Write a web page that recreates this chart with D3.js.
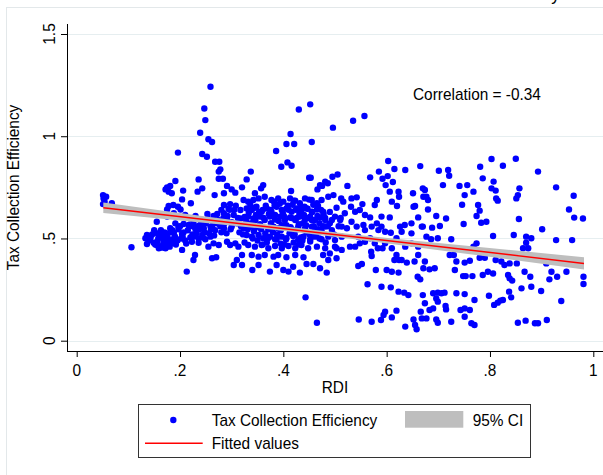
<!DOCTYPE html>
<html><head><meta charset="utf-8">
<script src="https://cdn.jsdelivr.net/npm/d3@7"></script>
<style>body{margin:0;background:#fff}svg{display:block;font-family:"Liberation Sans",Arial,sans-serif}</style>
</head><body><svg id="c" width="603" height="475"></svg>
<script>
// Scatter data: RDI (x) and Tax Collection Efficiency (y)
const rdi = [
0.259,0.247,0.249,0.239,0.255,0.262,0.196,0.243,0.252,0.268,0.276,0.278,0.275,0.236,0.275,0.283,0.191,0.175,0.181,0.172,
0.178,0.184,0.206,0.234,0.243,0.291,0.300,0.307,0.320,0.267,0.285,0.204,0.221,0.178,0.187,0.196,0.201,0.285,0.297,0.294,
0.323,0.317,0.175,0.265,0.155,0.191,0.197,0.181,0.207,0.217,0.226,0.236,0.246,0.259,0.271,0.285,0.300,0.310,0.323,0.175,
0.188,0.204,0.152,0.136,0.133,0.141,0.159,0.168,0.178,0.188,0.149,0.136,0.155,0.165,0.175,0.184,0.191,0.159,0.172,0.106,
0.204,0.226,0.223,0.236,0.243,0.249,0.259,0.265,0.275,0.255,0.229,0.226,0.262,0.270,0.213,0.291,0.297,0.307,0.313,0.304,
0.310,0.320,0.320,0.291,0.304,0.285,0.317,0.265,0.239,0.220,0.210,0.188,0.197,0.175,0.051,0.052,0.054,0.051,0.057,0.068,
// middle block
0.430,0.452,0.496,0.535,0.557,0.414,0.406,0.421,0.455,0.386,0.408,0.416,0.396,0.337,0.329,0.450,0.453,0.495,0.505,0.481,
0.471,0.466,0.475,0.486,0.524,0.415,0.361,0.357,0.345,0.603,0.615,0.636,0.665,0.568,0.585,0.592,0.602,0.612,0.598,0.606,
0.623,0.624,0.651,0.670,0.671,0.655,0.581,0.577,0.610,0.620,0.590,0.606,0.568,0.532,0.542,0.553,0.548,0.539,0.516,0.512,
0.497,0.487,0.500,0.510,0.513,0.532,0.523,0.542,0.555,0.558,0.571,0.584,0.597,0.626,0.635,0.648,0.661,0.668,0.652,0.608,
0.548,0.539,0.529,0.577,0.583,0.592,0.570,0.571,0.619,0.624,0.615,0.629,0.639,0.661,0.654,0.660,0.665,0.671,0.552,0.545,
0.579,0.600,0.610,0.623,0.590,0.608,0.623,0.634,0.642,0.563,0.443,0.465,0.546,0.571,0.589,0.594,0.597,0.610,0.619,0.636,
0.652,0.655,0.658,0.666,0.668,
// dense core
0.332,0.342,0.352,0.364,0.377,0.390,0.400,0.413,0.423,0.432,0.442,0.455,0.465,0.474,
0.329,0.339,0.348,0.358,0.368,0.377,0.387,0.397,0.406,0.416,0.426,0.435,0.445,0.455,0.465,0.477,
0.332,0.342,0.355,0.364,0.374,0.384,0.394,0.403,0.413,0.423,0.432,0.442,0.452,0.461,0.471,0.481,0.490,
0.335,0.345,0.358,0.371,0.381,0.390,0.403,0.416,0.429,0.442,0.455,0.468,0.481,0.494,
0.329,0.339,0.352,0.361,0.374,0.384,0.397,0.406,0.419,0.429,0.439,0.452,0.461,0.474,0.487,0.500,0.513,
0.332,0.345,0.358,0.371,0.384,0.397,0.410,0.423,0.435,0.448,0.465,0.481,0.500,
0.339,0.352,0.364,0.381,0.390,0.406,0.423,0.439,0.477,0.490,0.503,0.513,
0.352,0.340,0.374,0.387,0.400,0.410,0.419,0.432,0.445,0.458,0.471,0.484,0.487,0.503,
0.519,0.531,0.558,0.581,0.590,0.545,0.568,0.558,0.597,0.629,0.648,0.619,0.648,0.661,0.610,0.636,
// right block
0.803,0.850,0.781,0.825,0.893,0.701,0.719,0.721,0.786,0.807,0.709,0.741,0.756,0.803,0.811,0.857,0.854,0.851,0.928,0.962,
0.674,0.677,0.680,0.751,0.768,0.812,0.815,0.746,0.777,0.780,0.774,0.783,0.793,0.856,0.953,0.963,0.980,0.680,0.696,0.715,
0.703,0.688,0.749,0.670,0.677,0.686,0.699,0.725,0.806,0.846,0.870,0.870,0.880,0.874,0.864,0.901,0.928,0.959,0.774,0.768,
0.722,0.730,0.735,0.751,0.761,0.780,0.790,0.811,0.822,0.828,0.838,0.852,0.909,0.674,0.683,0.693,0.732,0.748,0.753,0.766,
0.786,0.796,0.806,0.835,0.838,0.843,0.867,0.878,0.919,0.915,0.930,0.948,0.981,0.981,0.861,0.880,0.899,0.837,0.841,0.825,
0.798,0.770,0.735,0.751,0.690,0.699,0.706,0.712,0.696,0.699,0.670,0.674,0.683,0.690,0.714,0.715,0.743,0.751,0.761,0.751,
0.808,0.815,0.820,0.938,0.677,0.696,0.699,0.725,0.764,0.770,0.854,0.869,0.887,0.893,0.910,
// extra core
0.305,0.312,0.318,0.322,0.328,0.333,0.338,0.343,0.347,0.350,0.355,0.360,0.365,0.368,0.372,0.376,0.380,0.383,0.387,0.391,
0.395,0.399,0.402,0.406,0.409,0.412,0.416,0.420,0.424,0.427,0.431,0.434,0.438,0.441,0.445,0.448,0.452,0.456,0.459,0.463,
0.467,0.470,0.474,0.478,0.482,0.486,0.490,0.494,0.498,0.503,0.507,0.511,
0.140,0.146,0.152,0.158,0.163,0.168,0.172,0.177,0.182,0.186,0.192,0.197,0.202,0.207,0.212,0.218,0.224,0.230,0.236,0.242,
0.248,0.254,0.260,0.266,0.272,0.278,0.284,0.290,0.296,0.300,
// extra core 2
0.308,0.315,0.325,0.331,0.336,0.341,0.346,0.353,0.357,0.362,0.366,0.370,0.375,0.379,0.384,0.388,0.393,0.397,0.401,0.405,
0.410,0.414,0.418,0.422,0.426,0.430,0.433,0.437,0.440,0.444,0.447,0.451,0.455,0.458,0.462,0.466,0.470,0.473,0.477,0.481,
0.360,0.395,0.430,0.325,0.345,0.382,0.420,0.450,
0.143,0.150,0.156,0.161,0.166,0.170,0.176,0.180,0.185,0.190,0.195,0.200,0.205,0.210,0.215,0.220,0.226,0.232,0.238,0.244,
0.250,0.256,0.262,0.268,0.274,0.280,0.286,0.292,0.298,0.253,0.280,0.230
];
const tce = [
1.242,1.136,1.079,1.017,0.985,0.972,0.920,0.913,0.900,0.875,0.875,0.838,0.827,0.789,0.792,0.792,0.781,0.750,0.757,0.740,
0.729,0.721,0.734,0.729,0.745,0.757,0.740,0.724,0.750,0.712,0.721,0.691,0.672,0.659,0.664,0.655,0.642,0.664,0.668,0.647,
0.688,0.639,0.642,0.610,0.582,0.574,0.558,0.550,0.571,0.566,0.558,0.561,0.550,0.558,0.574,0.550,0.558,0.574,0.550,0.525,
0.528,0.522,0.528,0.517,0.501,0.509,0.509,0.501,0.492,0.496,0.479,0.473,0.468,0.463,0.468,0.476,0.484,0.452,0.452,0.457,
0.444,0.509,0.484,0.479,0.517,0.496,0.509,0.476,0.468,0.460,0.419,0.395,0.403,0.408,0.338,0.484,0.468,0.476,0.460,0.370,
0.395,0.419,0.370,0.590,0.615,0.623,0.598,0.590,0.590,0.598,0.615,0.623,0.607,0.607,0.712,0.696,0.680,0.668,0.704,0.672,
// middle block
1.131,1.156,1.042,1.076,1.099,1.011,0.962,0.962,0.972,0.928,0.872,0.856,0.851,0.827,0.789,0.797,0.797,0.802,0.813,0.778,
0.761,0.740,0.757,0.770,0.757,0.732,0.761,0.745,0.721,0.879,0.840,0.835,0.854,0.799,0.827,0.792,0.805,0.776,0.761,0.729,
0.729,0.704,0.721,0.745,0.704,0.659,0.688,0.664,0.680,0.659,0.607,0.603,0.603,0.696,0.701,0.668,0.639,0.631,0.680,0.696,
0.712,0.704,0.607,0.590,0.558,0.582,0.550,0.558,0.566,0.541,0.558,0.541,0.533,0.558,0.566,0.574,0.603,0.558,0.655,0.528,
0.476,0.460,0.460,0.476,0.452,0.452,0.435,0.414,0.419,0.395,0.395,0.395,0.382,0.419,0.387,0.313,0.300,0.354,0.375,0.365,
0.346,0.346,0.337,0.333,0.264,0.261,0.240,0.235,0.223,0.276,0.212,0.088,0.104,0.093,0.101,0.126,0.142,0.114,0.147,0.069,
0.104,0.077,0.056,0.142,0.109,
// dense core
0.680,0.688,0.696,0.704,0.688,0.696,0.680,0.696,0.685,0.672,0.696,0.688,0.672,0.688,
0.647,0.639,0.655,0.631,0.647,0.631,0.655,0.639,0.647,0.631,0.647,0.636,0.647,0.631,0.642,0.631,
0.607,0.598,0.607,0.590,0.607,0.593,0.607,0.590,0.603,0.590,0.607,0.593,0.607,0.590,0.603,0.590,0.574,
0.558,0.550,0.558,0.545,0.558,0.550,0.558,0.545,0.558,0.550,0.558,0.545,0.558,0.541,
0.517,0.509,0.517,0.501,0.509,0.496,0.509,0.501,0.512,0.496,0.509,0.496,0.509,0.496,0.509,0.492,0.509,
0.468,0.460,0.468,0.452,0.463,0.452,0.463,0.452,0.468,0.452,0.460,0.452,0.460,
0.419,0.411,0.419,0.411,0.419,0.408,0.419,0.408,0.419,0.427,0.403,0.444,
0.370,0.346,0.338,0.370,0.346,0.338,0.362,0.333,0.375,0.375,0.354,0.333,0.395,0.452,
0.623,0.655,0.615,0.574,0.558,0.509,0.501,0.484,0.476,0.533,0.525,0.501,0.476,0.460,0.452,0.460,
// right block
0.889,0.890,0.851,0.856,0.827,0.831,0.835,0.807,0.794,0.778,0.761,0.757,0.761,0.745,0.734,0.745,0.712,0.696,0.750,0.709,
0.737,0.704,0.688,0.712,0.729,0.696,0.685,0.665,0.664,0.636,0.610,0.577,0.582,0.595,0.642,0.602,0.598,0.642,0.610,0.598,
0.561,0.553,0.571,0.558,0.509,0.496,0.501,0.496,0.512,0.517,0.509,0.479,0.501,0.452,0.452,0.545,0.492,0.492,0.476,0.460,
0.419,0.419,0.387,0.382,0.391,0.406,0.406,0.395,0.387,0.370,0.378,0.378,0.378,0.387,0.349,0.354,0.346,0.316,0.316,0.316,
0.321,0.337,0.329,0.321,0.305,0.294,0.337,0.313,0.337,0.300,0.313,0.337,0.313,0.277,0.256,0.264,0.243,0.240,0.212,0.199,
0.220,0.199,0.232,0.228,0.232,0.235,0.232,0.235,0.207,0.191,0.223,0.183,0.150,0.158,0.170,0.153,0.150,0.158,0.150,0.117,
0.175,0.186,0.196,0.194,0.109,0.104,0.088,0.093,0.085,0.077,0.088,0.098,0.085,0.085,0.101,
// extra core
0.640,0.600,0.560,0.520,0.585,0.625,0.575,0.535,0.615,0.490,0.570,0.640,0.525,0.480,0.620,0.575,0.530,0.660,0.495,0.585,
0.540,0.625,0.470,0.565,0.660,0.525,0.600,0.480,0.640,0.545,0.620,0.505,0.575,0.655,0.530,0.600,0.485,0.630,0.560,0.520,
0.660,0.575,0.535,0.620,0.480,0.560,0.630,0.590,0.520,0.650,0.560,0.600,
0.490,0.520,0.470,0.500,0.540,0.480,0.515,0.465,0.530,0.495,0.470,0.545,0.500,0.530,0.475,0.560,0.520,0.545,0.500,0.570,
0.530,0.595,0.545,0.515,0.620,0.560,0.600,0.525,0.640,0.580,
// extra core 2
0.660,0.530,0.605,0.545,0.665,0.500,0.590,0.630,0.545,0.600,0.660,0.500,0.640,0.555,0.615,0.520,0.670,0.565,0.610,0.495,
0.640,0.555,0.665,0.520,0.600,0.570,0.650,0.490,0.615,0.565,0.645,0.520,0.590,0.665,0.545,0.610,0.500,0.640,0.560,0.600,
0.470,0.475,0.470,0.480,0.650,0.680,0.685,0.690,
0.505,0.540,0.485,0.520,0.455,0.530,0.505,0.460,0.540,0.510,0.490,0.560,0.510,0.490,0.540,0.505,0.575,0.525,0.545,0.505,
0.575,0.525,0.560,0.540,0.590,0.530,0.575,0.610,0.545,0.620,0.640,0.610
];
// Fitted line end points and 95% CI band
const fitX = [0.0515, 0.982];
const fitY = [0.650, 0.378];
const ciX  = [0.0515, 0.15, 0.25, 0.35, 0.45, 0.55, 0.65, 0.75, 0.85, 0.982];
const ciLo = [0.624, 0.600, 0.576, 0.551, 0.523, 0.492, 0.460, 0.427, 0.393, 0.348];
const ciHi = [0.676, 0.642, 0.608, 0.575, 0.545, 0.516, 0.490, 0.465, 0.441, 0.408];
const xTicks = [0, 0.2, 0.4, 0.6, 0.8, 1];
const xTickLabels = ["0", ".2", ".4", ".6", ".8", "1"];
const yTicks = [0, 0.5, 1, 1.5];
const yTickLabels = ["0", ".5", "1", "1.5"];
const legendLabels = ["Tax Collection Efficiency", "95% CI", "Fitted values"];

const FS = 15.4, SY = 1.1;
const svg = d3.select("#c");
const x = d3.scaleLinear().domain([0, 1]).range([76.7, 593.3]);
const y = d3.scaleLinear().domain([0, 1.5]).range([340.7, 34]);
const axL = 67, axB = 351, axT = 24, axR = 603;

function txt(g, tx, ty, s, anchor, rot, fs) {
  return g.append("text")
    .attr("transform", `translate(${tx},${ty})` + (rot ? " rotate(-90)" : "") + ` scale(1,${SY})`)
    .attr("text-anchor", anchor || "start").attr("font-size", fs || FS).attr("fill", "#000").text(s);
}

// outer frame (graph region border)
svg.append("rect").attr("x", 6.5).attr("y", 7.5).attr("width", 620).attr("height", 500)
  .attr("fill", "none").attr("stroke", "#e3e8ea").attr("stroke-width", 1);

// cut-off title at the very top
txt(svg, 560, 0, "Tax Collection Efficiency", "end", false, FS + 2);

// grid lines
svg.append("g").selectAll("line").data(yTicks).join("line")
  .attr("x1", axL).attr("x2", axR).attr("y1", d => Math.round(y(d)) + 0.5).attr("y2", d => Math.round(y(d)) + 0.5)
  .attr("stroke", "#e6eef0").attr("stroke-width", 1);

// scatter
svg.append("g").selectAll("circle").data(rdi.map((d, i) => [d, tce[i]])).join("circle")
  .attr("cx", d => x(d[0])).attr("cy", d => y(d[1])).attr("r", 3.2).attr("fill", "#0000ff");

// CI band
const area = d3.area().x(d => x(d[0])).y0(d => y(d[1])).y1(d => y(d[2]));
svg.append("path").datum(ciX.map((d, i) => [d, ciLo[i], ciHi[i]])).attr("d", area).attr("fill", "#bebebe");

// fitted line
const line = d3.line().x(d => x(d[0])).y(d => y(d[1]));
svg.append("path").datum(fitX.map((d, i) => [d, fitY[i]])).attr("d", line)
  .attr("fill", "none").attr("stroke", "#ff0000").attr("stroke-width", 1.5);

// axes (ticks via d3 axis, labels drawn with the same scales)
const gx = svg.append("g").attr("transform", `translate(0,${axB})`)
  .call(d3.axisBottom(x).tickValues(xTicks).tickFormat("").tickSize(6).tickSizeOuter(0));
gx.select(".domain").remove();
gx.selectAll("line").attr("stroke", "#000");
xTicks.forEach((t, i) => txt(svg, x(t), 376, xTickLabels[i], "middle"));

const gy = svg.append("g").attr("transform", `translate(${axL},0)`)
  .call(d3.axisLeft(y).tickValues(yTicks).tickFormat("").tickSize(6).tickSizeOuter(0));
gy.select(".domain").remove();
gy.selectAll("line").attr("stroke", "#000");
yTicks.forEach((t, i) => txt(svg, 55, y(t), yTickLabels[i], "middle", true));

svg.append("line").attr("x1", axL + 0.5).attr("x2", axL + 0.5).attr("y1", axT).attr("y2", axB + 0.5).attr("stroke", "#000");
svg.append("line").attr("x1", axL).attr("x2", axR).attr("y1", axB + 0.5).attr("y2", axB + 0.5).attr("stroke", "#000");

// axis titles
txt(svg, (x(0) + x(1)) / 2, 392.5, "RDI", "middle");
txt(svg, 19, (axT + axB) / 2, "Tax Collection Efficiency", "middle", true);

// correlation note
txt(svg, 413, 99.5, "Correlation = -0.34");

// legend
const lg = svg.append("g");
lg.append("rect").attr("x", 138.5).attr("y", 404.5).attr("width", 392).attr("height", 53)
  .attr("fill", "#fff").attr("stroke", "#333").attr("stroke-width", 1);
lg.append("circle").attr("cx", 173.3).attr("cy", 420).attr("r", 3.2).attr("fill", "#0000ff");
txt(lg, 211.7, 425.8, legendLabels[0]);
lg.append("rect").attr("x", 405).attr("y", 411).attr("width", 58.3).attr("height", 16.7).attr("fill", "#bebebe");
txt(lg, 472.7, 425.8, legendLabels[1]);
lg.append("line").attr("x1", 145).attr("x2", 202.7).attr("y1", 443.3).attr("y2", 443.3).attr("stroke", "#ff0000").attr("stroke-width", 1.5);
txt(lg, 211.7, 449.2, legendLabels[2]);
</script></body></html>
